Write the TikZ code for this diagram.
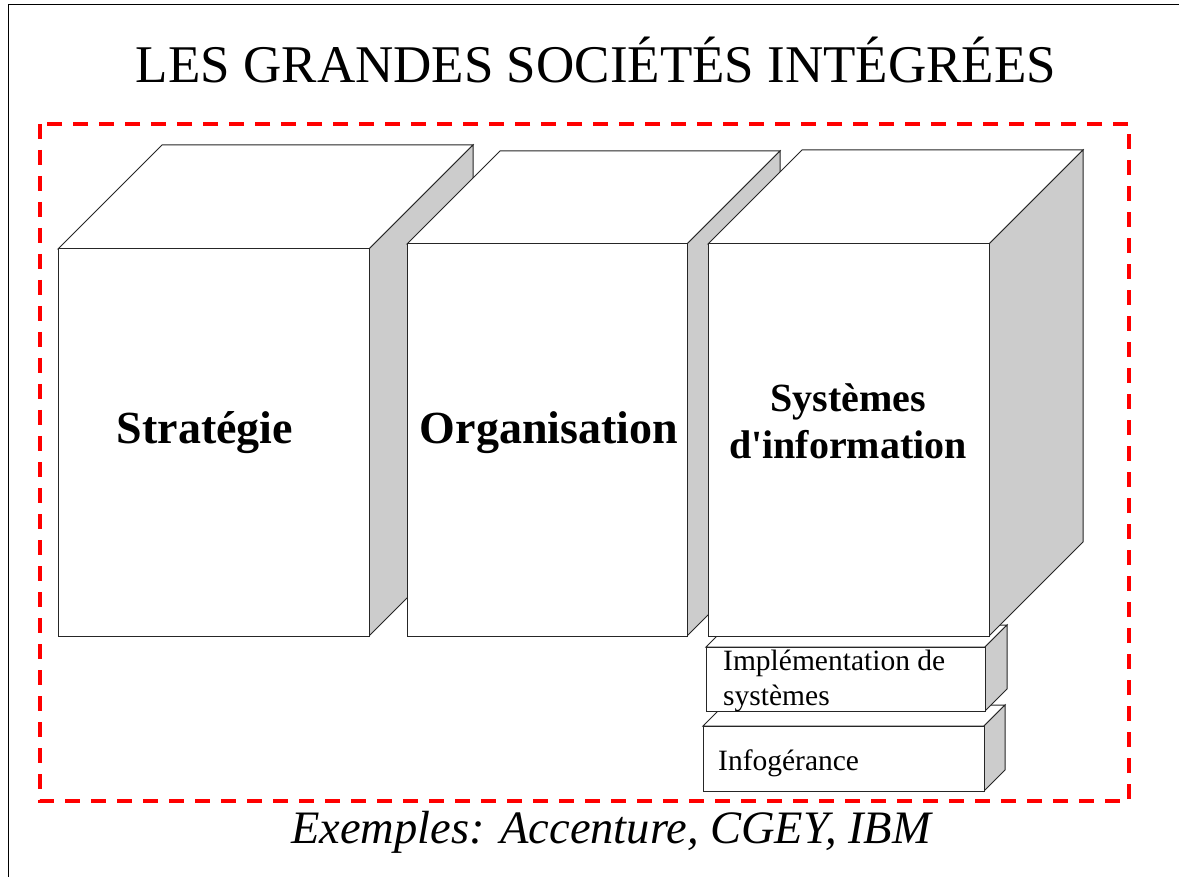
\documentclass[tikz,border=0pt]{standalone}
\usepackage{fontspec}
\setmainfont{Liberation Serif}
\newcommand\cuboid[6]{%
  \path[topface] (#2,#3) -- ({#2+#6},{#3-#6}) -- ({#4+#6},{#3-#6}) -- (#4,#3) -- cycle;
  \path[sideface] (#4,#3) -- ({#4+#6},{#3-#6}) -- ({#4+#6},{#5-#6}) -- (#4,#5) -- cycle;
  \node[frontface, minimum width={(#4-#2)*1pt}, minimum height={(#5-#3)*1pt}, anchor=north west] (#1) at (#2,#3) {};
}
\begin{document}
\begin{tikzpicture}[x=1pt,y=-1pt,
  edge/.style={draw=black!85, line width=1pt, line join=miter},
  topface/.style={edge, fill=white},
  sideface/.style={edge, fill=black!20},
  frontface/.style={edge, fill=white, rectangle, inner sep=0pt, outer sep=0pt},
  titlelabel/.style={font=\fontsize{53}{60}\selectfont, inner sep=0pt, anchor=base},
  boxlabel/.style={font=\fontsize{46}{50}\selectfont\bfseries, inner sep=0pt, anchor=base},
  silabel/.style={font=\fontsize{40}{44}\selectfont\bfseries, inner sep=0pt, anchor=base},
  smalllabel/.style={font=\fontsize{29.5}{34}\selectfont, inner sep=0pt, anchor=base west},
  exlabel/.style={font=\fontsize{46.5}{50}\selectfont\itshape, inner sep=0pt, anchor=base},
  frame/.style={draw=black, line width=1pt},
  zone/.style={draw=red, line width=4pt, dash pattern=on 15pt off 11pt}]
\useasboundingbox (0,0) rectangle (1179,877);
\fill[white] (0,0) rectangle (1179,877);
\draw[frame] (8,895) -- (8,5) -- (1195,5);
\node[titlelabel] (title) at (596,83) {LES GRANDES SOCIÉTÉS INTÉGRÉES};
\draw[zone] (40,124) rectangle (1129,801);
\cuboid{strat}{58}{249}{369}{636}{104}
\cuboid{orga}{407}{244}{687}{636}{93}
\cuboid{info}{703}{726}{984}{791}{21}
\cuboid{impl}{706}{647}{985}{711}{22}
\cuboid{si}{708}{244}{989}{636}{94}
\node[boxlabel] (lstrat) at (205,443) {Stratégie};
\node[boxlabel] (lorga) at (549,443) {Organisation};
\node[silabel] (lsia) at (848,412) {Systèmes};
\node[silabel] (lsib) at (848,459) {d\textquotesingle information};
\node[smalllabel] (limpla) at (723,670) {Implémentation de};
\node[smalllabel] (limplb) at (723,705) {systèmes};
\node[smalllabel] (linfo) at (718,770) {Infogérance};
\node[exlabel] (ex) at (611,843) {Exemples: Accenture, CGEY, IBM};
\end{tikzpicture}
\end{document}
